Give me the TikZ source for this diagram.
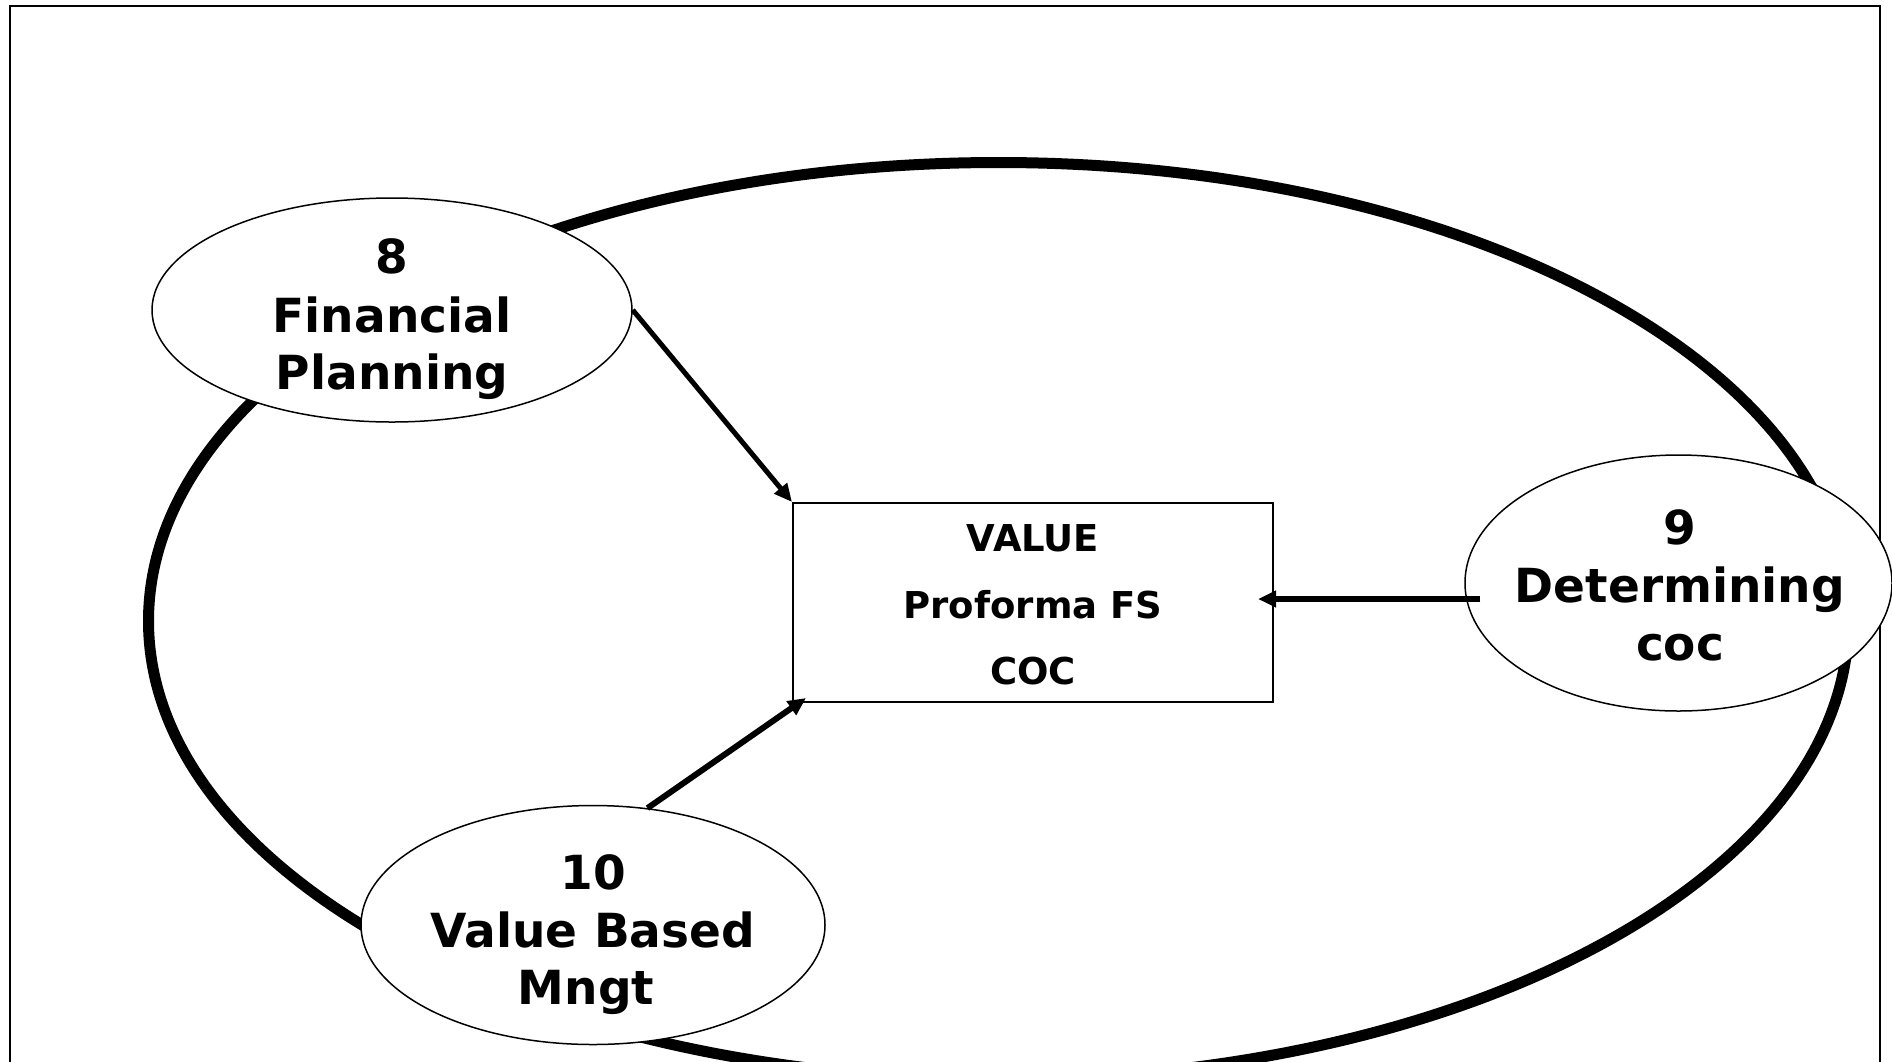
\documentclass[tikz,border=0pt]{standalone}
\usepackage{fontspec}
\setmainfont{DejaVu Sans}
\usetikzlibrary{shapes.geometric,arrows.meta}
\begin{document}
\begin{tikzpicture}[x=1pt,y=-1pt,
  bubble/.style={ellipse,draw,line width=1.5pt,fill=white,inner sep=0pt},
  bigtxt/.style={font=\fontsize{47}{58}\selectfont\bfseries,anchor=base,inner sep=0pt},
  boxtxt/.style={font=\fontsize{37}{44}\selectfont\bfseries,anchor=base,inner sep=0pt},
  arr/.style={-{Triangle[length=18pt,width=16pt]}}]
\useasboundingbox (0,0) rectangle (1892,1061);
% frame
\draw[line width=2pt] (10,1100) -- (10,6) -- (1880,6) -- (1880,1100);
% big cycle ellipse
\node[ellipse,draw,line width=11pt,minimum width=1700pt,minimum height=917pt,inner sep=0pt] (ring) at (998.5,621) {};
% bubbles
\node[bubble,minimum width=480pt,minimum height=224pt] (e8) at (392,310) {};
\node[bubble,minimum width=427pt,minimum height=256pt] (e9) at (1678.5,583) {};
\node[bubble,minimum width=464pt,minimum height=239pt] (e10) at (593,925) {};
% centre box
\node[draw,line width=2pt,fill=white,minimum width=480pt,minimum height=199pt,inner sep=0pt] (box) at (1033,602.5) {};
% connectors
\draw[arr,line width=5pt] (e8.east) -- (box.north west);
\draw[arr,line width=6pt] ([shift={(16,16)}]e9.west) -- ([shift={(-16,-3.5)}]box.east);
\draw[arr,line width=6pt] (e10.65) -- ([shift={(14,-5)}]box.south west);
% texts
\node[bigtxt] (t8a) at (392,273) {8};
\node[bigtxt] (t8b) at (392,332) {Financial};
\node[bigtxt] (t8c) at (392,389) {Planning};
\node[bigtxt] (t9a) at (1680,544) {9};
\node[bigtxt] (t9b) at (1680,602) {Determining};
\node[bigtxt] (t9c) at (1680,660) {coc};
\node[bigtxt] (t10a) at (593,889) {10};
\node[bigtxt] (t10b) at (593,947) {Value Based};
\node[bigtxt] (t10c) at (586,1004) {Mngt};
\node[boxtxt] (tba) at (1033,551) {VALUE};
\node[boxtxt] (tbb) at (1033,618) {Proforma FS};
\node[boxtxt] (tbc) at (1033,684) {COC};
\end{tikzpicture}
\end{document}
